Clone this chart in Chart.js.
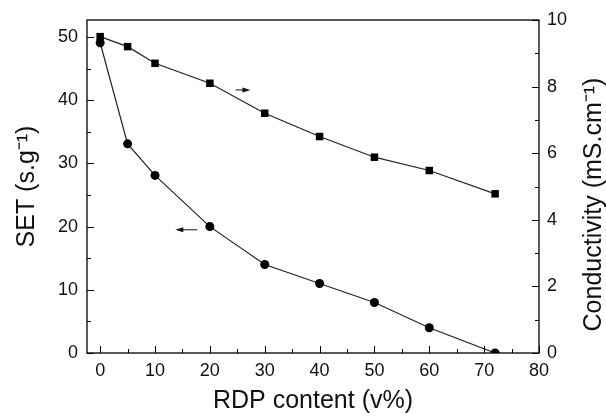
<!DOCTYPE html>
<html>
<head>
<meta charset="utf-8">
<script src="https://cdn.jsdelivr.net/npm/chart.js@4"></script>
<style>
  body { margin: 0; background: #fff; }
</style>
</head>
<body>
<canvas id="rdpChart" width="606" height="416"></canvas>
<script>
// data
const rdp = [0, 5, 10, 20, 30, 40, 50, 60, 72];
const setValues = [49.1, 33.1, 28.1, 20.0, 14.0, 11.0, 8.0, 4.0, 0.0];
const conductivity = [9.5, 9.2, 8.7, 8.1, 7.2, 6.5, 5.88, 5.48, 4.78];

const xTicks = [0, 10, 20, 30, 40, 50, 60, 70, 80];
const xMinor = [5, 15, 25, 35, 45, 55, 65, 75];
const setTicks = [0, 10, 20, 30, 40, 50];
const setMinor = [5, 15, 25, 35, 45];
const condTicks = [0, 2, 4, 6, 8, 10];
const condMinor = [1, 3, 5, 7, 9];

const xTitle = 'RDP content (v%)';
const setTitle = 'SET (s.g\u207B\u00B9)';
const condTitle = 'Conductivity (mS.cm\u207B\u00B9)';

// arrows telling which curve goes with which axis: [xFrom, xTo, y]
const setArrow = [17.7, 13.7, 19.5];
const condArrow = [24.7, 27.4, 7.9];

const fontFamily = 'Arial, "Liberation Sans", sans-serif';

function fixedTicks(values) {
    return function (scale) {
        scale.ticks = values.map(v => ({ value: v }));
    };
}

const frame = {
    id: 'frame',
    afterDraw(chart) {
        const ctx = chart.ctx;
        const a = chart.chartArea;
        const x = chart.scales.x, yl = chart.scales.y, yr = chart.scales.y2;
        ctx.save();
        ctx.strokeStyle = '#000';
        ctx.lineWidth = 1.3;
        ctx.strokeRect(a.left, a.top, a.right - a.left, a.bottom - a.top);

        ctx.lineWidth = 1;
        ctx.beginPath();
        const tick = (vals, len, fn) => vals.forEach(v => fn(v, len));
        const bottom = (v, len) => { const p = Math.round(x.getPixelForValue(v)) + 0.5; ctx.moveTo(p, a.bottom); ctx.lineTo(p, a.bottom - len); };
        const left = (v, len) => { const p = Math.round(yl.getPixelForValue(v)) + 0.5; ctx.moveTo(a.left, p); ctx.lineTo(a.left + len, p); };
        const right = (v, len) => { const p = Math.round(yr.getPixelForValue(v)) + 0.5; ctx.moveTo(a.right, p); ctx.lineTo(a.right - len, p); };
        tick(xTicks, 7, bottom);
        tick(xMinor, 4, bottom);
        tick(setTicks, 7, left);
        tick(setMinor, 4, left);
        tick(condTicks, 7, right);
        tick(condMinor, 4, right);
        ctx.stroke();

        // right axis title reads bottom to top
        ctx.fillStyle = '#111';
        ctx.font = '25px ' + fontFamily;
        ctx.textAlign = 'center';
        ctx.textBaseline = 'middle';
        ctx.translate(594, (a.top + a.bottom) / 2 + 18);
        ctx.rotate(-Math.PI / 2);
        ctx.fillText(condTitle, 0, 0);
        ctx.restore();
    },
    afterDatasetsDraw(chart) {
        const ctx = chart.ctx;
        const x = chart.scales.x;
        const arrow = (spec, scale) => {
            const x1 = x.getPixelForValue(spec[0]);
            const x2 = x.getPixelForValue(spec[1]);
            const y = scale.getPixelForValue(spec[2]);
            const dir = Math.sign(x2 - x1);
            ctx.beginPath();
            ctx.moveTo(x1, y);
            ctx.lineTo(x2 - dir * 5, y);
            ctx.stroke();
            ctx.beginPath();
            ctx.moveTo(x2, y);
            ctx.lineTo(x2 - dir * 8, y - 2.5);
            ctx.lineTo(x2 - dir * 8, y + 2.5);
            ctx.closePath();
            ctx.fill();
        };
        ctx.save();
        ctx.strokeStyle = '#111';
        ctx.fillStyle = '#111';
        ctx.lineWidth = 1;
        arrow(setArrow, chart.scales.y);
        arrow(condArrow, chart.scales.y2);
        ctx.restore();
    }
};

const ctx = document.getElementById('rdpChart').getContext('2d');

const rdpChart = new Chart(ctx, {
    type: 'line',
    data: {
        datasets: [{
            label: 'SET',
            data: rdp.map((v, i) => ({ x: v, y: setValues[i] })),
            yAxisID: 'y',
            borderColor: '#222',
            borderWidth: 1.2,
            pointStyle: 'circle',
            pointRadius: 4.5,
            pointBackgroundColor: '#000',
            pointBorderWidth: 0,
            tension: 0,
        }, {
            label: 'Conductivity',
            data: rdp.map((v, i) => ({ x: v, y: conductivity[i] })),
            yAxisID: 'y2',
            borderColor: '#222',
            borderWidth: 1.2,
            pointStyle: 'rect',
            pointRadius: 5.3,
            pointBackgroundColor: '#000',
            pointBorderWidth: 0,
            tension: 0,
        }]
    },
    options: {
        responsive: false,
        animation: false,
        layout: { padding: { top: 20, left: 0, right: 0, bottom: 0 } },
        plugins: {
            legend: { display: false },
            tooltip: { enabled: false },
        },
        scales: {
            x: {
                type: 'linear',
                min: -2.4,
                max: 80,
                afterBuildTicks: fixedTicks(xTicks),
                afterFit: s => { s.height = 63; },
                grid: { display: false, drawTicks: false },
                border: { display: false },
                ticks: {
                    padding: 7,
                    color: '#111',
                    font: { size: 18, family: fontFamily },
                    maxRotation: 0,
                },
                title: {
                    display: true,
                    text: xTitle,
                    color: '#111',
                    font: { size: 25, family: fontFamily },
                    padding: { top: 0, bottom: 0 },
                },
            },
            y: {
                position: 'left',
                min: 0,
                max: 52.7,
                afterBuildTicks: fixedTicks(setTicks),
                afterFit: s => { s.width = 87; },
                grid: { display: false, drawTicks: false },
                border: { display: false },
                ticks: {
                    padding: 9,
                    color: '#111',
                    font: { size: 18, family: fontFamily },
                },
                title: {
                    display: true,
                    text: setTitle,
                    color: '#111',
                    font: { size: 25, family: fontFamily },
                    padding: { top: 12, bottom: 0 },
                },
            },
            y2: {
                position: 'right',
                min: 0,
                max: 10,
                afterBuildTicks: fixedTicks(condTicks),
                afterFit: s => { s.width = 67; },
                grid: { display: false, drawTicks: false },
                border: { display: false },
                ticks: {
                    padding: 8,
                    color: '#111',
                    font: { size: 18, family: fontFamily },
                },
            },
        },
    },
    plugins: [frame],
});
</script>
</body>
</html>
